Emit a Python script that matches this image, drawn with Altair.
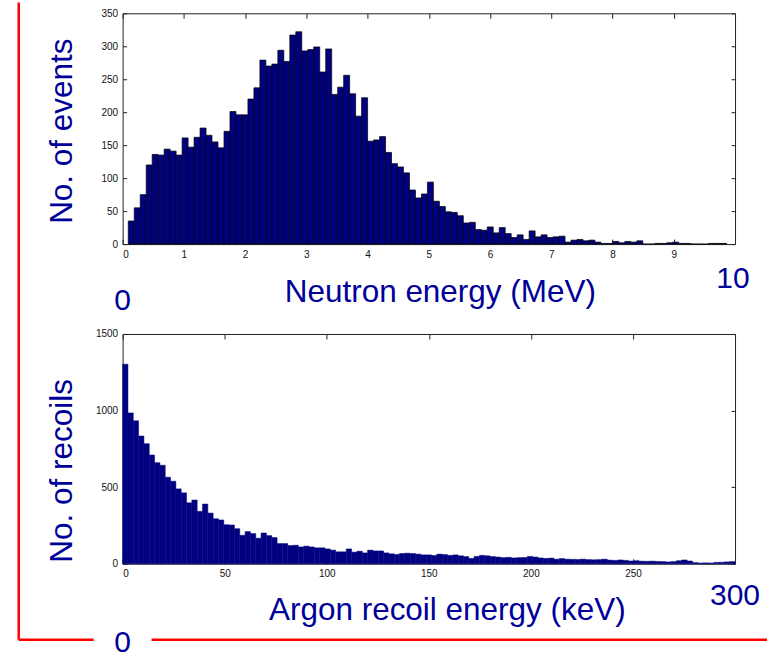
import altair as alt
import numpy as np
import pandas as pd

# Neutron energy spectrum: 100 equal-width bins between the sample extremes (MeV)
neutron_range = [0.092, 9.862]
neutron_counts = [
    35, 55, 75, 120, 136, 135, 144, 141, 135, 161,
    147, 162, 176, 165, 155, 146, 171, 201, 196, 196,
    220, 237, 279, 270, 273, 294, 277, 317, 322, 293,
    295, 299, 261, 296, 227, 238, 256, 228, 194, 222,
    156, 158, 163, 139, 122, 117, 108, 82, 70, 76,
    94, 65, 57, 49, 48, 43, 32, 33, 22, 21,
    26, 17, 25, 16, 10, 14, 7, 20, 11, 14,
    10, 11, 12, 3, 6, 7, 5, 6, 3, 1,
    1, 4, 2, 4, 3, 5, 0, 0, 1, 1,
    2, 3, 1, 1, 0, 0, 0, 1, 1, 1,
]

# Argon recoil spectrum: equal-width bins over 0-300 keV
recoil_range = [0.0, 300.0]
recoil_counts = [
    1303, 985, 933, 834, 784, 710, 660, 643, 565, 539,
    489, 463, 398, 416, 342, 390, 331, 294, 286, 255,
    253, 229, 186, 210, 197, 167, 201, 184, 171, 132,
    132, 119, 121, 110, 115, 110, 104, 104, 97, 89,
    78, 78, 97, 76, 82, 71, 89, 84, 84, 71,
    65, 61, 67, 69, 67, 63, 58, 58, 54, 63,
    60, 55, 58, 52, 47, 35, 48, 55, 52, 47,
    44, 40, 42, 38, 40, 41, 48, 44, 38, 35,
    37, 30, 34, 30, 29, 28, 30, 27, 26, 27,
    30, 24, 22, 25, 22, 18, 20, 17, 16, 17,
    15, 14, 12, 14, 20, 25, 18, 8, 5, 6,
    5, 9, 10, 12, 14,
]

neutron_x_ticks = [0, 1, 2, 3, 4, 5, 6, 7, 8, 9]
neutron_y_ticks = [0, 50, 100, 150, 200, 250, 300, 350]
recoil_x_ticks = [0, 50, 100, 150, 200, 250]
recoil_y_ticks = [0, 500, 1000, 1500]

TEXT_NAVY = "#000099"
BAR_NAVY = "#000080"
RED = "#ff0000"
FONT = "Liberation Sans"


def hist_frame(rng, counts):
    edges = np.linspace(rng[0], rng[1], len(counts) + 1)
    return pd.DataFrame({"lo": edges[:-1], "hi": edges[1:], "count": counts})


def label(text, x, y, size=30, angle=0):
    return alt.Chart(pd.DataFrame({"t": [text]})).mark_text(
        font=FONT, fontSize=size, color=TEXT_NAVY, align="center",
        baseline="middle", angle=angle,
    ).encode(text="t:N", x=alt.value(x), y=alt.value(y))


def red_rule(x, x2, y, y2):
    return alt.Chart(pd.DataFrame({"k": [0]})).mark_rule(
        color=RED, strokeWidth=2.5
    ).encode(x=alt.value(x), x2=alt.value(x2), y=alt.value(y), y2=alt.value(y2))


def panel(df, xmax, ymax, xticks, yticks, bar_stroke, bar_stroke_w, extras, h):
    xs = alt.Scale(domain=[0, xmax], nice=False, zero=False)
    ys = alt.Scale(domain=[0, ymax], nice=False)
    bars = alt.Chart(df).mark_rect(
        color=BAR_NAVY, stroke=bar_stroke, strokeWidth=bar_stroke_w
    ).encode(
        x=alt.X("lo:Q", scale=xs, axis=alt.Axis(
            orient="bottom", values=xticks, offset=-5, tickSize=5,
            labelPadding=5, title=None, format="d")),
        x2="hi:Q",
        y=alt.Y("count:Q", scale=ys, axis=alt.Axis(
            orient="left", values=yticks, offset=-4, tickSize=4,
            labelPadding=5, title=None, format="d")),
        y2=alt.datum(0),
    )
    # mirrored inward ticks on the top and right edges of the box
    mirror = alt.Chart(df).mark_point(opacity=0).encode(
        x=alt.X("lo:Q", scale=xs, axis=alt.Axis(
            orient="top", values=xticks, offset=-5, tickSize=5,
            labels=False, title=None)),
        y=alt.Y("count:Q", scale=ys, axis=alt.Axis(
            orient="right", values=yticks, offset=-4, tickSize=4,
            labels=False, title=None)),
    )
    return alt.layer(bars, mirror, *extras).resolve_axis(
        x="independent", y="independent"
    ).properties(width=613, height=h)


neutron_df = hist_frame(neutron_range, neutron_counts)
recoil_df = hist_frame(recoil_range, recoil_counts)

# annotations and frame, positioned relative to the upper panel's plot area
annotations = [
    red_rule(-104, -104, -10.75, 627),
    red_rule(-104, -29, 627, 627),
    red_rule(29, 645, 627, 627),
    label("No. of events", -60, 118, size=31.5, angle=270),
    label("No. of recoils", -60, 458, size=31.5, angle=270),
    label("Neutron energy (MeV)", 318, 280, size=31.5),
    label("Argon recoil energy (keV)", 325, 598, size=31.5),
    label("0", 0, 288),
    label("10", 611, 266),
    label("300", 613, 583),
    label("0", 0, 630),
]

top = panel(neutron_df, 10, 350, neutron_x_ticks, neutron_y_ticks,
            "black", 0.7, annotations, 231)
bottom = panel(recoil_df, 300, 1500, recoil_x_ticks, recoil_y_ticks,
               BAR_NAVY, 0.5, [], 230)

chart = alt.vconcat(top, bottom, spacing=90, bounds="flush").properties(
    padding={"left": 16.75, "top": 0, "right": 0, "bottom": 0}
).configure_view(
    stroke="#222", strokeWidth=1
).configure_axis(
    domain=False, grid=False, tickColor="#222", tickWidth=1,
    labelColor="#111", labelFont=FONT, labelFontSize=10,
)

chart.save("out.html", embed_options={"renderer": "svg", "actions": False})
